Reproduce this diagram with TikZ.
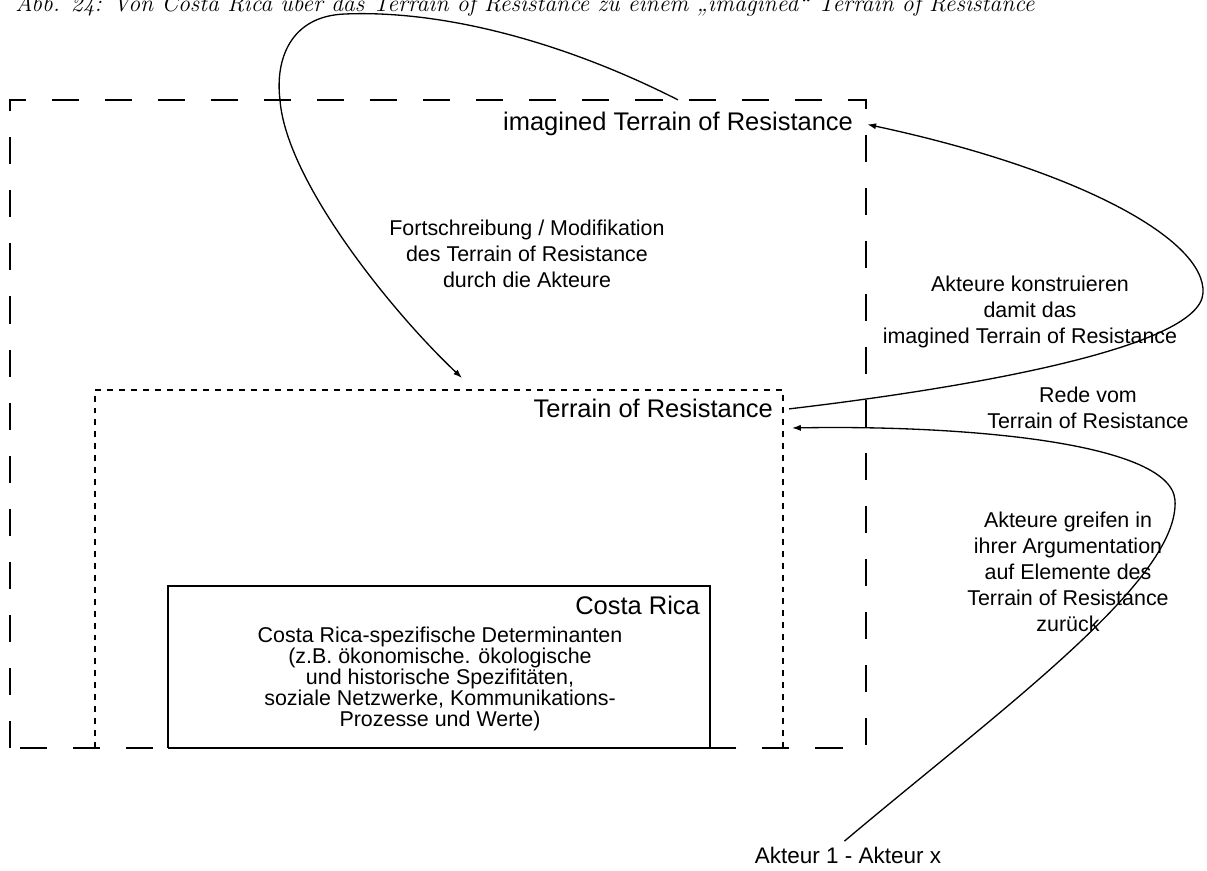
\documentclass[tikz,border=0pt]{standalone}
\usepackage{fontspec}
\newfontfamily\arialfont{Liberation Sans}
\usepackage{tikz}
\usetikzlibrary{arrows.meta}
\usetikzlibrary{calc}

\tikzset{
  bigtxt/.style = {font = \arialfont\fontsize{14.5}{17}\selectfont, inner sep = 1pt},
  smalltxt/.style = {font = \arialfont\fontsize{12.2}{14.8}\selectfont, align = center, inner sep = 1pt},
  bodytxt/.style = {font = \arialfont\fontsize{12.2}{12}\selectfont, align = center, inner sep = 1pt},
  longdash/.style = {line width = .75pt, dash pattern = on 15.4pt off 14.8pt},
  shortdash/.style = {line width = .75pt, dash pattern = on 3.4pt off 3.4pt},
  looparrow/.style = {line width = .75pt, -{Latex[length = 5pt, width = 3.5pt]}},
}

\begin{document}
\begin{tikzpicture}[x = .02cm, y = -.02cm]
\useasboundingbox (0,0) rectangle (1207,871);

  % caption (cut at the top)
\node[anchor = base west, font = \itshape\fontsize{13.5}{15}\selectfont, inner sep = 0pt] (caption) at (15,12)
  {Abb. 24: Von Costa Rica über das Terrain of Resistance zu einem „imagined“ Terrain of Resistance};

  % frames
\draw[longdash] (10,748) -- (10,100) -- (866,100) -- (866,748) -- cycle;
\draw[shortdash] (95,748) -- (95,390) -- (783,390) -- (783,748);
\draw[line width = .75pt] (168,748) -- (168,586) -- (710,586) -- (710,748);
\draw[line width = 1pt] (168,748) -- (710,748);

  % frame labels
\node[bigtxt, anchor = base east] (imag) at (855,131) {imagined Terrain of Resistance};
\node[bigtxt, anchor = base east] (tor) at (775,418) {Terrain of Resistance};
\node[bigtxt, anchor = base east] (costa) at (702,614) {Costa Rica};
\node[bodytxt] (determ) at (440,679) {Costa Rica-spezifische Determinanten\\
  (z.B. ökonomische. ökologische\\
  und historische Spezifitäten,\\
  soziale Netzwerke, Kommunikations-\\
  Prozesse und Werte)};
\node[bigtxt, anchor = base, font = \arialfont\fontsize{12.8}{15}\selectfont] (akteur) at (848,863) {Akteur 1 - Akteur x};

  % texts beside the loops
\node[smalltxt] (fort) at (527,254) {Fortschreibung / Modifikation\\des Terrain of Resistance\\durch die Akteure};
\node[smalltxt] (konstr) at (1030,312) {Akteure konstruieren\\damit das\\imagined Terrain of Resistance};
\node[smalltxt] (rede) at (1088,408) {Rede vom\\Terrain of Resistance};
\node[smalltxt] (greifen) at (1068,572) {Akteure greifen in\\ihrer Argumentation\\auf Elemente des\\Terrain of Resistance\\zurück};

  % loop ends
\coordinate (fortTip) at (462,378);
\coordinate (greifTip) at (792,428);

  % loops
\draw[looparrow] ([yshift = 6pt]imag.north) .. controls (560,40) and (440,10) .. (345,14)
  .. controls (290,16) and (275,60) .. (280,100)
  .. controls (286,180) and (390,310) .. (fortTip);
\draw[looparrow] ([xshift = 8pt]tor.east) .. controls (950,390) and (1200,350) .. (1203,293)
  .. controls (1206,240) and (1080,170) .. ([xshift = 7pt]imag.east);
\draw[looparrow] ([xshift = -2pt, yshift = 2pt]akteur.north) .. controls (1000,710) and (1180,580) .. (1175,500)
  .. controls (1170,440) and (950,425) .. (greifTip);

\end{tikzpicture}
\end{document}
